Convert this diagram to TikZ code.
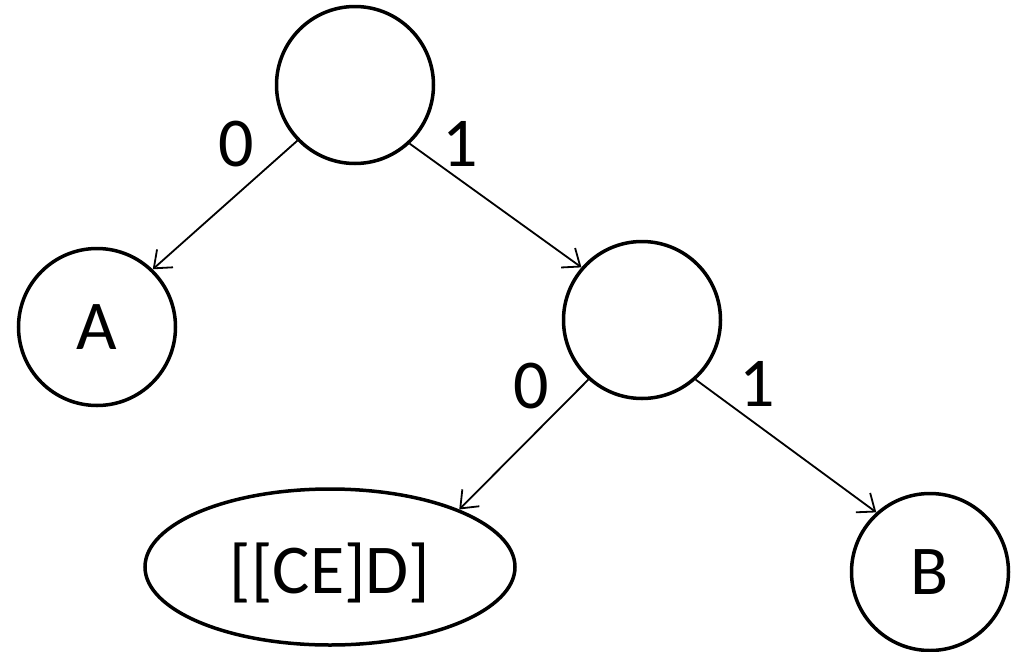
\documentclass[tikz,border=0pt]{standalone}
\usepackage{fontspec}
\setmainfont{Carlito}
\usetikzlibrary{shapes.geometric,arrows.meta}
\begin{document}
\begin{tikzpicture}[x=1pt,y=-1pt,
  treenode/.style={circle,draw,line width=3.5pt,minimum size=157pt,inner sep=0pt,font=\fontsize{70}{84}\selectfont},
  leafell/.style={ellipse,draw,line width=3.5pt,minimum width=370pt,minimum height=156pt,inner sep=0pt},
  edge/.style={line width=1.8pt,-{Straight Barb[length=15pt,width=24pt,line width=1.8pt]}},
  elabel/.style={font=\fontsize{70}{84}\selectfont,inner sep=0pt}]
\useasboundingbox (0,0) rectangle (1023,651);
\node[treenode] (root) at (355,85) {};
\node[treenode] (A) at (97,327) {A};
\node[treenode] (mid) at (642,320) {};
\node[leafell] (cd) at (330,567) {};
\node[elabel] (cdtext) at (330,573) {[[CE]D]};
\node[treenode] (B) at (930,572) {B};
\draw[edge] (root.224) -- (A.46);
\draw[edge] (root.313) -- (mid.139);
\draw[edge] (mid.228) -- (cd.24);
\draw[edge] (mid.312) -- (B.132);
\node[elabel] (l0a) at (236,144) {0};
\node[elabel] (l1a) at (460,144) {1};
\node[elabel] (l0b) at (531,386) {0};
\node[elabel] (l1b) at (757,384) {1};
\end{tikzpicture}
\end{document}
